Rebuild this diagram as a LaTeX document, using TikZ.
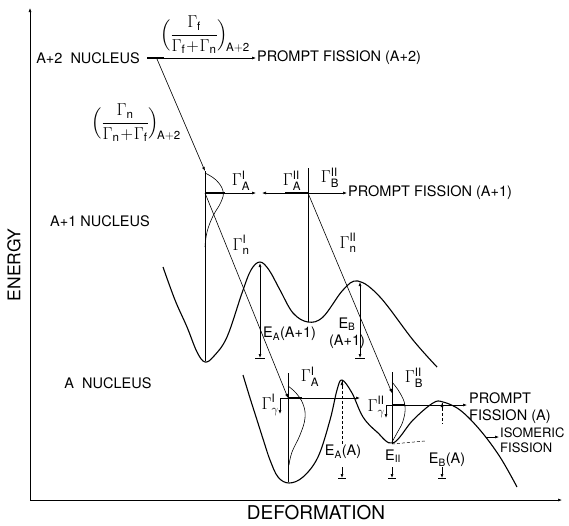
\documentclass[tikz,border=0pt]{standalone}
\usepackage{amsmath}
\usepackage{fontspec}
\setmainfont{TeX Gyre Heros}
\usetikzlibrary{arrows.meta,calc}

\newcommand{\Gmm}[2]{$\Gamma^{\mathrm{#2}}_{#1}$}

\begin{document}
\begin{tikzpicture}[>={Latex[length=4pt,width=3pt]},x=1pt,y=-1pt,
  every node/.style={font=\fontsize{14.5}{17}\selectfont,inner sep=1pt},
  glab/.style={font=\fontsize{16.5}{18}\selectfont},
  pot/.style={line width=1.1pt},
  lvl/.style={line width=2.6pt},
  wall/.style={line width=0.6pt},
  flow/.style={line width=0.6pt,->},
  gapln/.style={line width=0.5pt,densely dashed}]
  \useasboundingbox (0,0) rectangle (569,525);

  % axes
  \coordinate (origin) at (30,500);
  \coordinate (etop) at (30,8);
  \coordinate (dend) at (562,500);
  \draw[wall,->] (origin) -- (etop);
  \draw[wall,->] (origin) -- (dend);
  \node[rotate=90,font=\fontsize{17.5}{19}\selectfont] (energy) at (14,265) {ENERGY};
  \node[font=\fontsize{19}{21}\selectfont] (deform) at (316,513) {DEFORMATION};

  % A+2 nucleus
  \node[anchor=east] (nucA2) at (141,58) {A+2\ \ NUCLEUS};
  \coordinate (lvA2a) at (147,58);
  \coordinate (lvA2m) at (157,59);
  \coordinate (lvA2b) at (164,58);
  \draw[lvl] (lvA2a) -- (lvA2b);
  \node[anchor=west] (pfA2) at (256,58) {PROMPT FISSION (A+2)};
  \draw[flow] (lvA2b) -- (pfA2.west);
  \node[glab] (ratf) at (205,35) {$\Bigl(\dfrac{\Gamma_{\mathrm f}}{\Gamma_{\mathrm f}\!+\!\Gamma_{\mathrm n}}\Bigr)_{\!\mathrm{A+2}}$};
  \node[glab] (ratn) at (136,123) {$\Bigl(\dfrac{\Gamma_{\mathrm n}}{\Gamma_{\mathrm n}\!+\!\Gamma_{\mathrm f}}\Bigr)_{\!\mathrm{A+2}}$};

  % A+1 nucleus
  \node (nucA1) at (100,221) {A+1 NUCLEUS};
  \coordinate (topI) at (205,171);
  \coordinate (lvIa) at (205,193);
  \coordinate (lvIb) at (225,193);
  \coordinate (lvIc) at (256,193);
  \coordinate (minI) at (205,361);
  \coordinate (lvIIa) at (285,193);
  \coordinate (lvIIb) at (308,193);
  \coordinate (lvIId) at (262,193);
  \coordinate (topII) at (308,168);
  \coordinate (minII) at (308,322);
  \draw[flow] (lvA2m) -- (topI);
  \draw[wall] (topI) -- (minI);
  \draw[wall] (topII) -- (minII);
  \draw[lvl] (lvIa) -- (lvIb);
  \draw[lvl] (lvIIa) -- (lvIIb);
  \draw[flow] (lvIb) -- (lvIc);
  \draw[flow] (lvIIa) -- (lvIId);
  \node[anchor=west] (pfA1) at (347,193) {PROMPT FISSION (A+1)};
  \draw[flow] (lvIIb) -- (pfA1.west);
  \node[glab] (gAI) at (241,181) {\Gmm{\mathrm{A}}{I}};
  \node[glab] (gAII) at (292,181) {\Gmm{\mathrm{A}}{II}};
  \node[glab] (gBII) at (330,178) {\Gmm{\mathrm{B}}{II}};
  \draw[pot] plot[smooth,tension=0.6] coordinates {(163,267) (175,300) (187,327)
    (197,352) (205,362) (214,356) (227,337) (242,293) (251,270) (260,262) (269,270)
    (280,290) (293,313) (308,322) (323,317) (343,290) (358,281) (380,297) (413,340) (437,367)};
  \draw[wall] plot[smooth,tension=0.7] coordinates {(205,173) (216,180) (223,191)
    (221,202) (213,216) (207,232) (205,247)};
  \coordinate (barAI) at (260,263);
  \coordinate (baseAI) at (260,358);
  \coordinate (barBI) at (360,282);
  \coordinate (baseBI) at (360,358);
  \draw[wall,<->] (barAI) -- (baseAI);
  \draw[wall] ($(baseAI)+(-5,0)$) -- ($(baseAI)+(5,0)$);
  \draw[wall,<->] (barBI) -- (baseBI);
  \draw[wall] ($(baseBI)+(-5,0)$) -- ($(baseBI)+(5,0)$);
  \node[anchor=west] (eAI) at (262,334) {E$_{\mathrm A}$(A+1)};
  \node[align=center,inner sep=0pt] (eBI) at (347,333) {E$_{\mathrm B}$\\(A+1)};
  \node[glab] (gnI) at (241,245) {\Gmm{\mathrm{n}}{I}};
  \node[glab] (gnII) at (348,243) {\Gmm{\mathrm{n}}{II}};

  % A nucleus
  \node (nucA) at (108,383) {A\ \ NUCLEUS};
  \coordinate (wtopI) at (288,373);
  \coordinate (wminI) at (288,482);
  \coordinate (wlvIa) at (288,398);
  \coordinate (wlvIb) at (302,398);
  \coordinate (wlvIc) at (360,398);
  \coordinate (wgI) at (280,398);
  \coordinate (wgIe) at (280,414);
  \coordinate (wtopII) at (392,372);
  \coordinate (wminII) at (392,444);
  \coordinate (wlvIIa) at (392,405);
  \coordinate (wlvIIb) at (405,405);
  \coordinate (wgII) at (386,405);
  \coordinate (wgIIe) at (386,418);
  \coordinate (pfAin) at (467,405);
  \draw[pot] plot[smooth,tension=0.6] coordinates {(243,375) (250,398) (257,420)
    (264,442) (270,460) (278,477) (289,483) (303,477) (318,457) (330,420) (337,390)
    (342,380) (352,393) (363,417) (377,432) (393,443) (413,420) (433,403) (443,402)
    (460,410) (480,430) (500,457) (517,487)};
  \draw[flow] (lvIa) -- (wlvIa);
  \draw[flow] (lvIIb) -- (wtopII |- 0,393);
  \draw[wall] (wtopI) -- (wminI);
  \draw[wall] (wtopII) -- (wminII);
  \draw[lvl] (wlvIa) -- (wlvIb);
  \draw[lvl] (wlvIIa) -- (wlvIIb);
  \draw[flow] (wlvIb) -- (wlvIc);
  \draw[flow] (wlvIIb) -- (pfAin);
  \draw[wall] (wlvIa) -- (wgI);
  \draw[flow] (wgI) -- (wgIe);
  \draw[wall] (wlvIIa) -- (wgII);
  \draw[flow] (wgII) -- (wgIIe);
  \draw[wall] plot[smooth,tension=0.7] coordinates {(288,386) (296,393) (303,404)
    (305,418) (300,435) (292,452) (289,465)};
  \draw[wall] plot[smooth,tension=0.7] coordinates {(392,382) (400,393) (405,406)
    (403,421) (397,433) (392,442)};
  \node[glab] (gAIa) at (310,377) {\Gmm{\mathrm{A}}{I}};
  \node[glab] (gBIIa) at (414,378) {\Gmm{\mathrm{B}}{II}};
  \node[glab,anchor=east,inner sep=0pt] (ggI) at (279,405) {\Gmm{\gamma}{I}};
  \node[glab,anchor=east,inner sep=0pt] (ggII) at (385,407) {\Gmm{\gamma}{II}};
  \node[anchor=west,align=left] (pfA) at (468,408) {PROMPT\\FISSION (A)};
  \node[anchor=west,align=left,font=\fontsize{13}{15}\selectfont] (isoA) at (499,440) {ISOMERIC\\ FISSION};
  \coordinate (isoin) at (486,437);
  \draw[flow] (isoin) -- (isoA.west |- isoin);
  % barrier heights of A
  \node (eAA) at (343,452) {E$_{\mathrm A}$(A)};
  \node (eII) at (393,456) {E$_{\mathrm{II}}$};
  \node (eBA) at (447,460) {E$_{\mathrm B}$(A)};
  \coordinate (barAA) at (342,381);
  \coordinate (barBA) at (442,403);
  \draw[gapln] (barAA) -- (eAA.north -| barAA);
  \draw[wall,<-] (barAA) -- ++(0,8);
  \draw[gapln] (barBA) -- (442,424);
  \draw[wall,<-] (barBA) -- ++(0,8);
  \draw[gapln] (wminII) -- (425,441);
  \foreach \x in {342,392,442}{
    \draw[wall,->] (\x,467) -- (\x,478);
    \draw[wall] (\x-4,478) -- (\x+4,478);
  }
\end{tikzpicture}
\end{document}
